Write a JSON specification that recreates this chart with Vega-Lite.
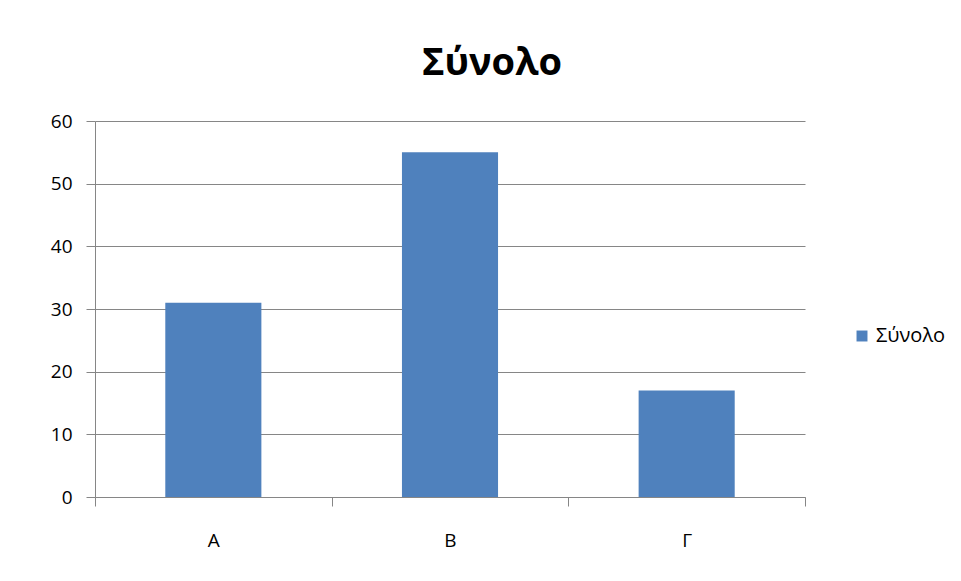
{
  "$schema": "https://vega.github.io/schema/vega-lite/v6.json",
  "width": 710,
  "height": 376,
  "autosize": {"type": "none"},
  "padding": {"left": 95, "top": 121, "right": 156, "bottom": 84},
  "background": "white",
  "data": {"values": [
    {"category": "Α", "series": "Σύνολο", "value": 31},
    {"category": "Β", "series": "Σύνολο", "value": 55},
    {"category": "Γ", "series": "Σύνολο", "value": 17}
  ]},
  "title": {
    "text": "Σύνολο",
    "font": "Open Sans",
    "fontSize": 38,
    "fontWeight": "bold",
    "color": "black",
    "anchor": "middle",
    "dx": 42,
    "offset": 29
  },
  "mark": {"type": "bar", "width": {"band": 0.406}, "color": "#4F81BD"},
  "encoding": {
    "x": {
      "field": "category",
      "type": "nominal",
      "sort": null,
      "scale": {"paddingInner": 0, "paddingOuter": 0},
      "axis": {
        "title": null,
        "labelAngle": 0,
        "tickBand": "extent",
        "labelAlign": "center",
        "labelFont": "Open Sans",
        "labelFontSize": 19,
        "labelColor": "black",
        "labelPadding": 25,
        "domainColor": "#868686",
        "tickColor": "#868686",
        "tickSize": 9,
        "grid": false
      }
    },
    "y": {
      "field": "value",
      "type": "quantitative",
      "scale": {"domain": [0, 60], "nice": false},
      "axis": {
        "title": null,
        "values": [0, 10, 20, 30, 40, 50, 60],
        "labelFont": "Open Sans",
        "labelFontSize": 19,
        "labelColor": "black",
        "labelPadding": 14,
        "domainColor": "#868686",
        "tickColor": "#868686",
        "tickSize": 9,
        "gridColor": "#868686",
        "gridOpacity": 1
      }
    },
    "color": {
      "field": "series",
      "type": "nominal",
      "scale": {"range": ["#4F81BD"]},
      "legend": {
        "title": null,
        "orient": "none",
        "legendX": 757,
        "legendY": 205,
        "symbolType": "square",
        "symbolSize": 120,
        "symbolStrokeWidth": 0,
        "labelFont": "Open Sans",
        "labelFontSize": 20,
        "labelColor": "black",
        "labelOffset": 4
      }
    }
  },
  "config": {"view": {"stroke": null}}
}
